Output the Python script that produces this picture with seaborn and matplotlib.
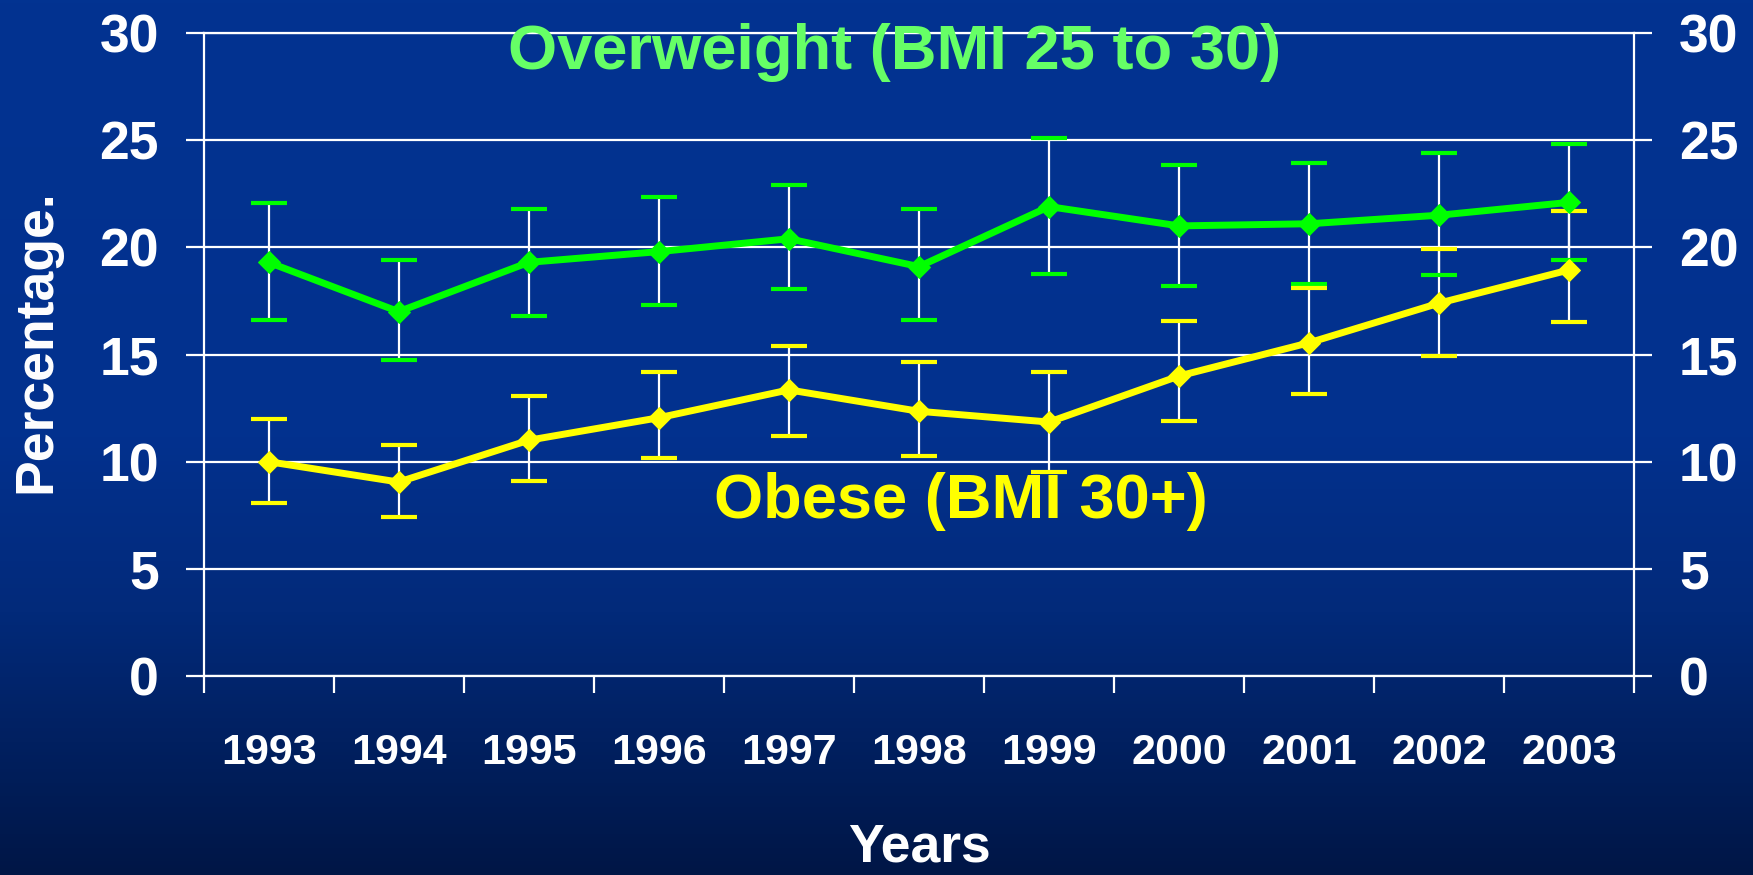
import numpy as np
import pandas as pd
import matplotlib
matplotlib.use("Agg")
import matplotlib.pyplot as plt
from matplotlib import font_manager
from matplotlib.colors import LinearSegmentedColormap
import seaborn as sns

# data
years = ["1993", "1994", "1995", "1996", "1997", "1998",
         "1999", "2000", "2001", "2002", "2003"]
overweight = [19.3, 17.0, 19.3, 19.8, 20.4, 19.1, 21.9, 21.0, 21.1, 21.5, 22.1]
overweight_low = [16.6, 14.75, 16.8, 17.3, 18.05, 16.6, 18.75, 18.2, 18.3, 18.7, 19.4]
overweight_high = [22.05, 19.4, 21.8, 22.35, 22.9, 21.8, 25.1, 23.85, 23.95, 24.4, 24.8]
obese = [10.0, 9.05, 11.0, 12.05, 13.35, 12.35, 11.85, 14.0, 15.55, 17.4, 18.95]
obese_low = [8.05, 7.4, 9.1, 10.15, 11.2, 10.25, 9.5, 11.9, 13.15, 14.95, 16.5]
obese_high = [12.0, 10.8, 13.05, 14.2, 15.4, 14.65, 14.2, 16.55, 18.1, 19.9, 21.7]

GREEN = "#00ff00"
GREEN_TXT = "#66ff66"
YELLOW = "#ffff00"

sns.set_style("dark")
plt.rcParams["font.family"] = ["Liberation Sans", "DejaVu Sans"]
plt.rcParams["font.weight"] = "bold"

installed = {f.name for f in font_manager.fontManager.ttflist}
if "Liberation Sans Narrow" in installed:
    year_font, year_size = "Liberation Sans Narrow", 38
else:
    year_font, year_size = "Liberation Sans", 31

pos = np.arange(len(years))

fig = plt.figure(figsize=(17.53, 8.75), dpi=100)

# gradient background
bg = fig.add_axes([0, 0, 1, 1], zorder=-10)
cmap = LinearSegmentedColormap.from_list(
    "slide", [(0.0, "#023391"), (0.5, "#02318e"), (0.7, "#022a7a"), (1.0, "#001646")])
bg.imshow(np.linspace(0, 1, 256)[:, None], aspect="auto", cmap=cmap,
          extent=[0, 1, 0, 1])
bg.set_axis_off()

ax = fig.add_axes([0.1161, 0.2274, 0.8163, 0.7349])
ax.set_facecolor("none")

# error bars: white stems, coloured caps
ax.vlines(pos, overweight_low, overweight_high, color="white", lw=1.6, zorder=3)
ax.vlines(pos, obese_low, obese_high, color="white", lw=1.6, zorder=3)
for lo, hi, c in [(overweight_low, overweight_high, GREEN),
                  (obese_low, obese_high, YELLOW)]:
    ax.plot(pos, lo, ls="none", marker="_", ms=26, mew=3.0, color=c, zorder=4)
    ax.plot(pos, hi, ls="none", marker="_", ms=26, mew=3.0, color=c, zorder=4)

sns.lineplot(x=pos, y=overweight, ax=ax, color=GREEN, lw=5, marker="D",
             markersize=11, markeredgecolor=GREEN, zorder=5)
sns.lineplot(x=pos, y=obese, ax=ax, color=YELLOW, lw=5, marker="D",
             markersize=11, markeredgecolor=YELLOW, zorder=5)

ax.set_xlim(-0.5, len(years) - 0.5)
ax.set_ylim(0, 30)
ax.set_yticks(range(0, 31, 5))
ax.grid(axis="y", color="white", lw=1.6)
ax.grid(axis="x", visible=False)
for s in ax.spines.values():
    s.set_visible(True)
    s.set_color("white")
    s.set_linewidth(1.6)

ax.tick_params(axis="y", left=True, right=True, labelleft=True, labelright=True,
               length=13, width=1.6, color="white", labelcolor="white",
               labelsize=38.5, pad=19)
ax.set_xticks(pos)
ax.set_xticklabels(years, fontfamily=year_font, fontsize=year_size,
                   fontweight="bold", color="white")
ax.tick_params(axis="x", which="major", length=0, pad=41)
ax.set_xticks(np.arange(-0.5, len(years)), minor=True)
ax.tick_params(axis="x", which="minor", bottom=True, length=12, width=1.6,
               color="white")

ax.set_ylabel("Percentage.", fontsize=38.5, fontweight="bold", color="white")
ax.yaxis.set_label_coords(-0.117, 0.521)
ax.yaxis.label.set_va("center")
ax.set_xlabel("Years", fontsize=38.5, fontweight="bold", color="white")
ax.xaxis.set_label_coords(0.5, -0.289)
ax.xaxis.label.set_va("baseline")

ax.text(4.81, 28.3, "Overweight (BMI 25 to 30)", color=GREEN_TXT, fontsize=45.5,
        fontweight="bold", ha="center", va="baseline", zorder=6)
ax.text(5.32, 7.35, "Obese (BMI 30+)", color=YELLOW, fontsize=45.5,
        fontweight="bold", ha="center", va="baseline", zorder=6)

fig.savefig("out.png", dpi=100)
